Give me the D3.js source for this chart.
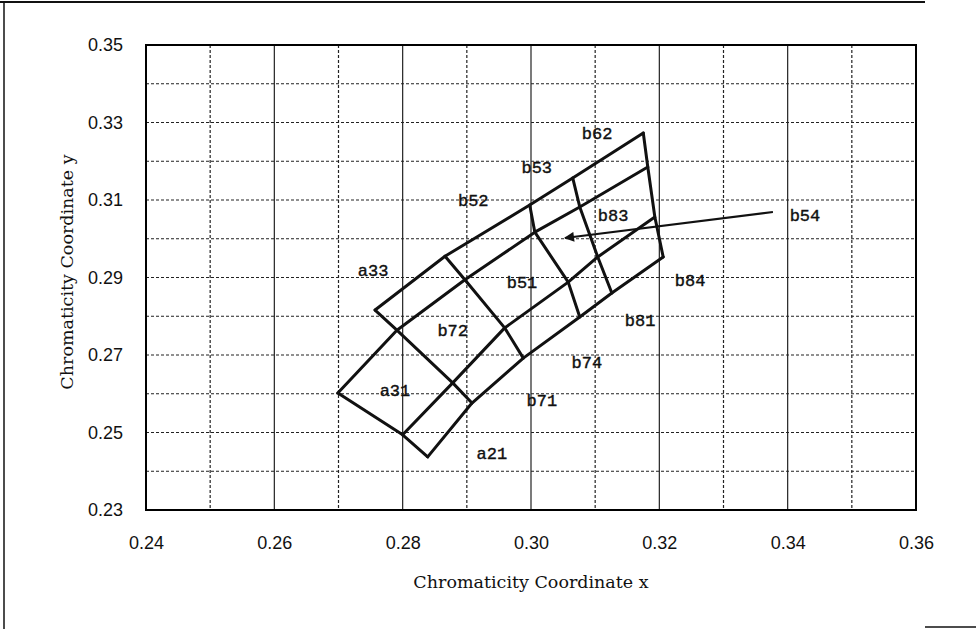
<!DOCTYPE html>
<html><head><meta charset="utf-8">
<script src="https://cdn.jsdelivr.net/npm/d3@7"></script>
<style>html,body{margin:0;padding:0;background:#fff;}svg{display:block;}</style>
</head><body>
<svg id="chart" width="976" height="629"></svg>
<script>
// ---- data ----
const xTicks = [0.24, 0.26, 0.28, 0.30, 0.32, 0.34, 0.36];
const yTicks = [0.23, 0.25, 0.27, 0.29, 0.31, 0.33, 0.35];
const xGrid = [0.25, 0.26, 0.27, 0.28, 0.29, 0.30, 0.31, 0.32, 0.33, 0.34, 0.35];
const yGrid = [0.24, 0.25, 0.26, 0.27, 0.28, 0.29, 0.30, 0.31, 0.32, 0.33, 0.34];

// long boundaries (lower-left to upper-right)
const line1 = [[0.2757,0.2816],[0.2866,0.2955],[0.2998,0.3087],[0.3065,0.3157],[0.3175,0.3273]];
const line2 = [[0.2699,0.2602],[0.2791,0.2764],[0.2897,0.2894],[0.3006,0.3017],[0.3076,0.3082],[0.3182,0.3185]];
const line3 = [[0.2800,0.2494],[0.2878,0.2628],[0.2959,0.2770],[0.3058,0.2888],[0.3104,0.2953],[0.3193,0.3056]];
const line4 = [[0.2839,0.2437],[0.2908,0.2576],[0.2988,0.2692],[0.3076,0.2798],[0.3126,0.2860],[0.3206,0.2953]];

const binNames = ["b62","b53","b52","b83","b54","a33","b51","b84","b81","b72","b74","a31","b71","a21"];
const binX = [0.3103,0.3009,0.2910,0.3128,0.3427,0.2754,0.2986,0.3248,0.3170,0.2878,0.3087,0.2788,0.3017,0.2939];
const binY = [0.3273,0.3185,0.3100,0.3061,0.3061,0.2919,0.2888,0.2894,0.2790,0.2764,0.2682,0.2610,0.2584,0.2447];

const arrowFrom = [0.3377, 0.3069];
const arrowTo = [0.3053, 0.3002];

// ---- layout ----
const svg = d3.select("#chart");
const L = 146, R = 916, T = 45, B = 510;
const x = d3.scaleLinear().domain([0.24, 0.36]).range([L, R]);
const y = d3.scaleLinear().domain([0.23, 0.35]).range([B, T]);

// outer frame (scan border)
svg.append("line").attr("x1",0).attr("x2",925).attr("y1",2).attr("y2",2).attr("stroke","#111").attr("stroke-width",2);
svg.append("line").attr("x1",4).attr("x2",4).attr("y1",2).attr("y2",629).attr("stroke","#111").attr("stroke-width",1.5);
svg.append("line").attr("x1",925).attr("x2",976).attr("y1",627).attr("y2",627).attr("stroke","#111").attr("stroke-width",1.5);

// grid
const g = svg.append("g");
g.selectAll("line.gx").data(xGrid).join("line")
  .attr("x1", d => x(d)).attr("x2", d => x(d)).attr("y1", T).attr("y2", B)
  .attr("stroke", "#222").attr("stroke-width", 1.2)
  .attr("stroke-dasharray", d => xTicks.some(t => Math.abs(t - d) < 1e-9) ? null : "3,2");
g.selectAll("line.gy").data(yGrid).join("line")
  .attr("x1", L).attr("x2", R).attr("y1", d => y(d)).attr("y2", d => y(d))
  .attr("stroke", "#222").attr("stroke-width", 1.2).attr("stroke-dasharray", "3,2");

// plot border
svg.append("rect").attr("x", L).attr("y", T).attr("width", R - L).attr("height", B - T)
  .attr("fill", "none").attr("stroke", "#000").attr("stroke-width", 2);

// axes (labels only)
const fmt = d3.format(".2f");
const xAxis = svg.append("g").attr("transform", `translate(0,${B})`)
  .call(d3.axisBottom(x).tickValues(xTicks).tickFormat(fmt).tickSize(0).tickPadding(26));
const yAxis = svg.append("g").attr("transform", `translate(${L},0)`)
  .call(d3.axisLeft(y).tickValues(yTicks).tickFormat(fmt).tickSize(0).tickPadding(23));
[xAxis, yAxis].forEach(a => {
  a.select(".domain").remove();
  a.selectAll("text").attr("font-family", "'Liberation Sans', Arial, sans-serif")
    .attr("font-size", 18).attr("fill", "#111");
});

// axis titles
svg.append("text").attr("x", 531).attr("y", 588).attr("text-anchor", "middle")
  .attr("font-family", "'DejaVu Serif', serif").attr("font-size", 17.5).attr("fill", "#111")
  .text("Chromaticity Coordinate x");
svg.append("text").attr("transform", "translate(73,272) rotate(-90)").attr("text-anchor", "middle")
  .attr("font-family", "'DejaVu Serif', serif").attr("font-size", 17.5).attr("fill", "#111")
  .text("Chromaticity Coordinate y");

// mesh
const lineGen = d3.line().x(d => x(d[0])).y(d => y(d[1]));
const longLines = [line1, line2, line3, line4];
const crossLines = [
  [line2[0], line3[0], line4[0]],
  [line1[0], line2[1], line3[1], line4[1]],
  [line1[1], line2[2], line3[2], line4[2]],
  [line1[2], line2[3], line3[3], line4[3]],
  [line1[3], line2[4], line3[4], line4[4]],
  [line1[4], line2[5], line3[5], line4[5]]
];
const mesh = svg.append("g").attr("fill", "none").attr("stroke", "#111")
  .attr("stroke-width", 3).attr("stroke-linejoin", "round").attr("stroke-linecap", "round");
mesh.selectAll("path.long").data(longLines).join("path").attr("d", lineGen);
mesh.selectAll("path.cross").data(crossLines).join("path").attr("d", lineGen);

// arrow
svg.append("defs").append("marker").attr("id", "ah").attr("viewBox", "0 0 10 10")
  .attr("refX", 9).attr("refY", 5).attr("markerWidth", 14).attr("markerHeight", 10)
  .attr("markerUnits", "userSpaceOnUse").attr("orient", "auto")
  .append("path").attr("d", "M0,0 L10,5 L0,10 Z").attr("fill", "#111");
svg.append("line")
  .attr("x1", x(arrowFrom[0])).attr("y1", y(arrowFrom[1]))
  .attr("x2", x(arrowTo[0])).attr("y2", y(arrowTo[1]))
  .attr("stroke", "#111").attr("stroke-width", 2).attr("marker-end", "url(#ah)");

// bin labels
svg.append("g").selectAll("text").data(binNames).join("text")
  .attr("x", (d, i) => x(binX[i])).attr("y", (d, i) => y(binY[i]))
  .attr("dy", "0.35em").attr("text-anchor", "middle")
  .attr("font-family", "'Liberation Mono', 'Courier New', monospace")
  .attr("font-size", 17).attr("fill", "#111").attr("stroke", "#111").attr("stroke-width", 0.4)
  .text(d => d);
</script>
</body></html>
